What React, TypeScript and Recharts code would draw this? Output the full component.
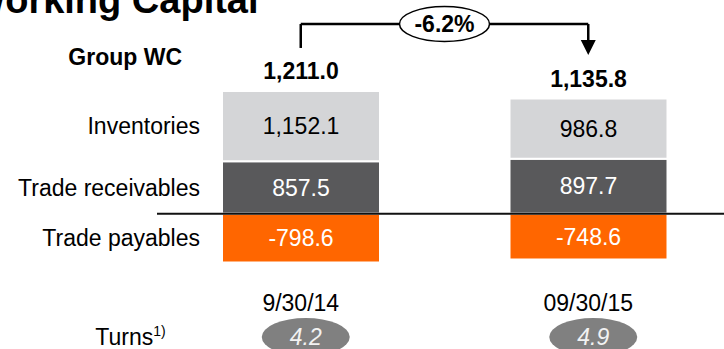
import React from "react";
import { BarChart, Bar, XAxis, YAxis, LabelList, ReferenceLine } from "recharts";

// Group working capital, two reporting dates
const categories = ["9/30/14", "09/30/15"];
const inventories = [1152.1, 986.8];
const receivables = [857.5, 897.7];
const payables = [-798.6, -748.6];
const totals = [1211.0, 1135.8];
const turns = [4.2, 4.9];

const rowNames = {
  inventories: "Inventories",
  receivables: "Trade receivables",
  payables: "Trade payables",
};

// bracket between the two totals (value units)
const BRACKET_TOP = 3105;
const BRACKET_LEFT_END = 2713;
const BRACKET_RIGHT_END = 2598;

const FONT = '"Liberation Sans", Arial, sans-serif';
const FS = 23;

const data = categories.map((date, i) => ({
  date,
  receivables: receivables[i],
  inventories: inventories[i],
  payables: payables[i],
}));

const fmt = (v: number) =>
  v.toLocaleString("en-US", { minimumFractionDigits: 1, maximumFractionDigits: 1 });

const changePct = ((totals[1] / totals[0] - 1) * 100).toFixed(1) + "%";

const box = (p: any) => p.viewBox ?? p;

// row caption left of the first column
const rowCaption = (text: string) => (p: any) => {
  if (p.index !== 0) return null;
  const { x, y, height } = box(p);
  return (
    <text x={x - 22} y={y + height / 2} dy="0.355em" textAnchor="end" fontSize={FS} fill="#000">
      {text}
    </text>
  );
};

// bold total above each column
const TotalLabel = (p: any) => {
  const { x, y, width } = box(p);
  return (
    <g>
      <text x={x + width / 2} y={y - 20} dy="0.355em" textAnchor="middle" fontSize={FS} fontWeight="bold" fill="#000">
        {fmt(totals[p.index])}
      </text>
      {p.index === 0 && (
        <text x={x - 40} y={y - 34} dy="0.355em" textAnchor="end" fontSize={FS} fontWeight="bold" fill="#000">
          Group WC
        </text>
      )}
    </g>
  );
};

const DateTick = (p: any) => {
  const { x, y, payload } = p;
  const i = categories.indexOf(payload.value);
  const cy = y + 42;
  return (
    <g>
      <text x={x} y={y} dy="0.71em" textAnchor="middle" fontSize={FS} fill="#000">
        {payload.value}
      </text>
      <ellipse cx={x + 5} cy={cy} rx={44} ry={19} fill="#808080" />
      <text x={x + 5} y={cy} dy="0.355em" textAnchor="middle" fontSize={FS} fontStyle="italic" fill="#f2f2f2">
        {turns[i].toFixed(1)}
      </text>
      {i === 0 && (
        <text x={x - 135} y={cy} dy="0.355em" textAnchor="end" fontSize={FS} fill="#000">
          Turns<tspan dy={-9} fontSize={14}>1)</tspan>
        </text>
      )}
    </g>
  );
};

const ChangeBadge = (p: any) => {
  const { x, y, width, height } = p.viewBox;
  const cx = x + width / 2;
  const cy = y + height / 2;
  return (
    <g>
      <ellipse cx={cx} cy={cy} rx={45} ry={17.5} fill="#fff" stroke="#000" strokeWidth={1.5} />
      <text x={cx} y={cy} dy="0.355em" textAnchor="middle" fontSize={FS} fontWeight="bold" fill="#000">
        {changePct}
      </text>
    </g>
  );
};

const ArrowDown = (p: any) => {
  const { x1, y1, x2, y2 } = p;
  return (
    <g>
      <line x1={x1} y1={y1} x2={x2} y2={y2 - 15} stroke="#000" strokeWidth={2.5} />
      <polygon points={`${x2 - 7.5},${y2 - 15} ${x2 + 7.5},${y2 - 15} ${x2},${y2}`} fill="#000" />
    </g>
  );
};

export default function App() {
  return (
    <div style={{ position: "absolute", left: 0, top: 0, width: 724, height: 349, overflow: "hidden", background: "#fff", fontFamily: FONT }}>
      <div
        style={{
          position: "absolute",
          left: -30,
          top: -19,
          fontSize: 38,
          lineHeight: "38px",
          fontWeight: "bold",
          whiteSpace: "nowrap",
          color: "#000",
        }}
      >
        Working Capital
      </div>
      <BarChart
        width={724}
        height={349}
        data={data}
        stackOffset="sign"
        margin={{ top: 6, right: 0, bottom: 32, left: 157 }}
        style={{ fontFamily: FONT, position: "absolute", left: 0, top: 0 }}
      >
        <XAxis
          dataKey="date"
          height={30}
          axisLine={false}
          tickLine={false}
          padding={{ left: 0, right: -8 }}
          tick={DateTick}
          interval={0}
        />
        <YAxis hide domain={[-1200, 3400]} />
        <Bar dataKey="receivables" stackId="wc" fill="#59595b" stroke="#fff" strokeWidth={2} barSize={158} isAnimationActive={false}>
          <LabelList dataKey="receivables" position="center" formatter={fmt} fill="#fff" fontSize={FS} />
          <LabelList dataKey="receivables" content={rowCaption(rowNames.receivables)} />
        </Bar>
        <Bar dataKey="inventories" stackId="wc" fill="#d4d5d7" stroke="#fff" strokeWidth={2} barSize={158} isAnimationActive={false}>
          <LabelList dataKey="inventories" position="center" formatter={fmt} fill="#000" fontSize={FS} />
          <LabelList dataKey="inventories" content={rowCaption(rowNames.inventories)} />
          <LabelList dataKey="inventories" content={TotalLabel} />
        </Bar>
        <Bar dataKey="payables" stackId="wc" fill="#ff6600" stroke="#fff" strokeWidth={2} barSize={158} isAnimationActive={false}>
          <LabelList dataKey="payables" position="center" formatter={fmt} fill="#fff" fontSize={FS} />
          <LabelList dataKey="payables" content={rowCaption(rowNames.payables)} />
        </Bar>
        <ReferenceLine y={0} stroke="#111" strokeWidth={2} />
        <ReferenceLine
          segment={[
            { x: categories[0], y: BRACKET_LEFT_END },
            { x: categories[0], y: BRACKET_TOP },
          ]}
          stroke="#000"
          strokeWidth={2.5}
        />
        <ReferenceLine
          segment={[
            { x: categories[0], y: BRACKET_TOP },
            { x: categories[1], y: BRACKET_TOP },
          ]}
          stroke="#000"
          strokeWidth={2.5}
          label={{ position: "center", content: ChangeBadge }}
        />
        <ReferenceLine
          segment={[
            { x: categories[1], y: BRACKET_TOP },
            { x: categories[1], y: BRACKET_RIGHT_END },
          ]}
          shape={ArrowDown}
        />
      </BarChart>
    </div>
  );
}
